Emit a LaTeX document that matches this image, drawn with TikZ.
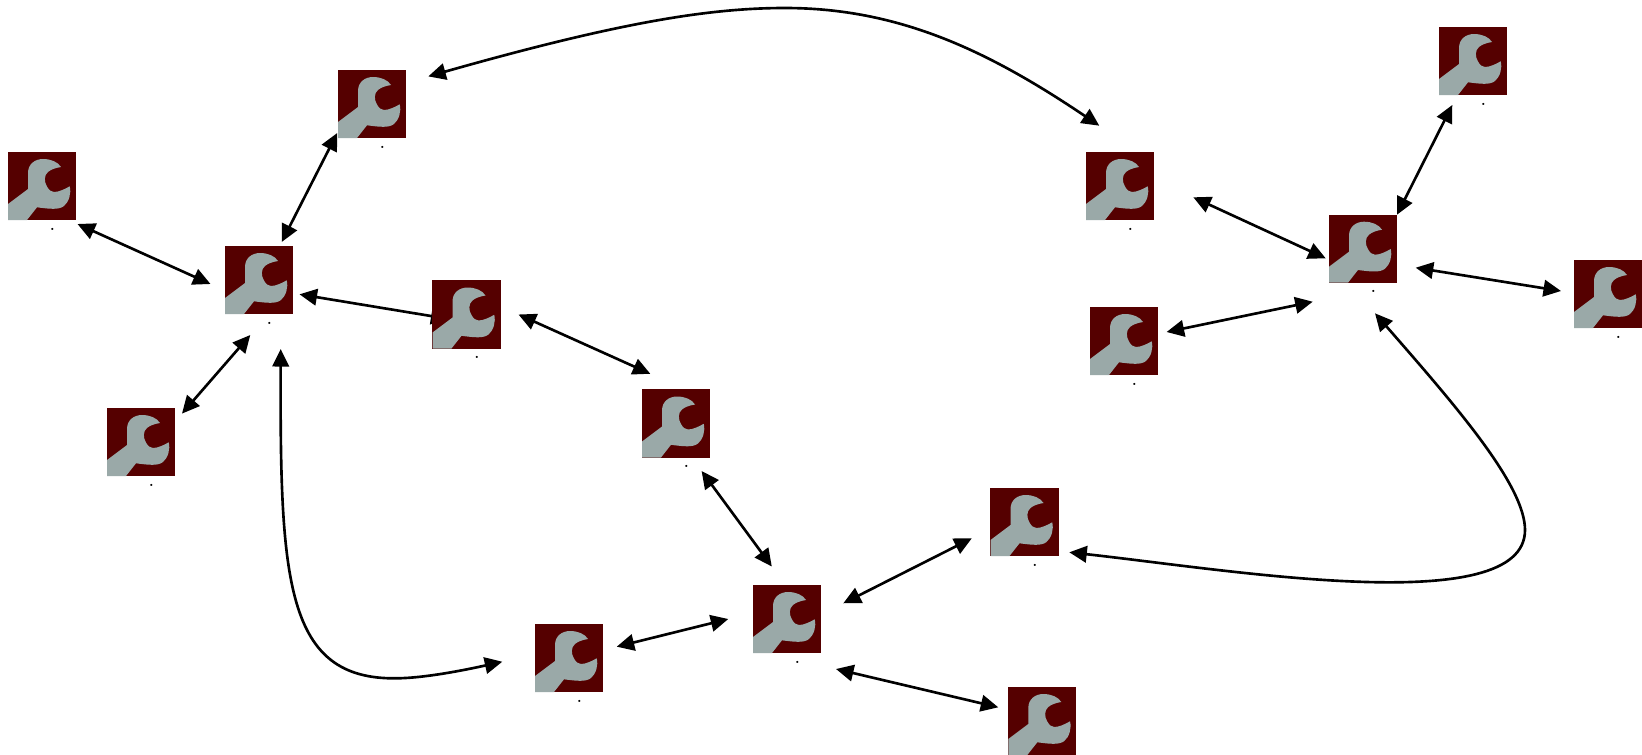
\documentclass[tikz,border=0pt]{standalone}
\usetikzlibrary{arrows.meta}
\pgfdeclarelayer{links}
\pgfsetlayers{links,main}
\definecolor{iconred}{HTML}{550000}
\definecolor{iconsteel}{HTML}{9AA9A8}
\tikzset{
  wrench/.style={minimum size=0.68cm, inner sep=0pt, fill=iconred,
    path picture={
      \fill[iconsteel]
        (-34,18) -- (-14,3) -- (-14,-13) .. controls (-14,-22) and (-7,-27) .. (1,-27)
        .. controls (9,-27) and (16,-24) .. (19,-19)
        .. controls (13,-18) and (9,-16.5) .. (6,-14)
        .. controls (2,-11) and (2,-4) .. (5,0.5)
        .. controls (7,4) and (9,6) .. (12,6)
        .. controls (17,6) and (23,3) .. (27.7,0.3)
        .. controls (29.5,7) and (27,16) .. (22,20)
        .. controls (17,24) and (8,23) .. (-5,21.3)
        -- (-15,34) -- (-34,34) -- cycle;
    }},
  tick/.style={inner sep=0pt, font=\tiny},
  link/.style={line width=0.75pt}
}
\begin{document}
\begin{tikzpicture}[x=0.01cm, y=-0.01cm, >={Triangle[length=1.75mm,width=1.65mm]}]
  \useasboundingbox (0,0) rectangle (1642,754);

  % Narzedzia
  \foreach \x/\y/\n in {42/186/a, 259/280/b, 372/104/c, 141/442/d, 466.5/314.5/e,
                        676/423.5/f, 569/658/g, 787/619/h, 1024.5/522/i,
                        1120/186/k, 1124/341/l, 1363/248.7/m, 1473/61/n, 1608/294/o} {
    \node[wrench] (\n) at (\x, \y) {};
    \node[tick, anchor=base] (\n dot) at ([shift={(10.5,44)}]\n.center) {.};
  }
  \node[wrench] (j) at (1042.3, 721) {};

  \begin{pgfonlayer}{links}
    % Proste polaczenia
    \draw[link, <->] ([shift={(35.5,38)}]a.center) -- ([shift={(-48.5,4)}]b.center);
    \draw[link, <->] ([shift={(22.7,-38)}]b.center) -- ([shift={(-34.8,29)}]c.center);
    \draw[link, <->] ([shift={(41,-28.4)}]d.center) -- ([shift={(-8.7,55)}]b.center);
    \draw[link, <->] ([shift={(40.5,14.3)}]b.center) -- ([shift={(-18,4.4)}]e.center);
    \draw[link, <->] ([shift={(52,0)}]e.center) -- ([shift={(-25.7,-49.7)}]f.center);
    \draw[link, <->] ([shift={(25.6,47.5)}]f.center) -- ([shift={(-15.2,-52.5)}]h.center);
    \draw[link, <->] ([shift={(-58.7,0)}]h.center) -- ([shift={(47.7,-11.3)}]g.center);
    \draw[link, <->] ([shift={(56.3,-15.7)}]h.center) -- ([shift={(-52.7,16.3)}]i.center);
    \draw[link, <->] ([shift={(49,50)}]h.center) -- ([shift={(-44,-13.7)}]j.center);
    \draw[link, <->] ([shift={(73.3,11.3)}]k.center) -- ([shift={(-37.3,9.6)}]m.center);
    \draw[link, <->] ([shift={(42.6,-9)}]l.center) -- ([shift={(-50.3,53)}]m.center);
    \draw[link, <->] ([shift={(34,-34)}]m.center) -- ([shift={(-20.7,44)}]n.center);
    \draw[link, <->] ([shift={(52.7,19)}]m.center) -- ([shift={(-47,-3)}]o.center);

    % Dlugie luki
    \draw[link, <->] ([shift={(56.3,-27.6)}]c.center)
      .. controls (620,22) and (710,8) .. (785,8)
      .. controls (900,8) and (990,52) .. ([shift={(-20.7,-60.3)}]k.center);
    \draw[link, <->] ([shift={(21.7,69)}]b.center)
      .. controls (280,580) and (285,680) .. (396.7,678.3)
      .. controls (425,678) and (465,670) .. ([shift={(-66.7,3.7)}]g.center);
    \draw[link, <->] ([shift={(44.8,30.3)}]i.center)
      .. controls (1230,570) and (1525,620) .. (1525,530)
      .. controls (1525,485) and (1455,405) .. ([shift={(12,64.6)}]m.center);
  \end{pgfonlayer}
\end{tikzpicture}
\end{document}
